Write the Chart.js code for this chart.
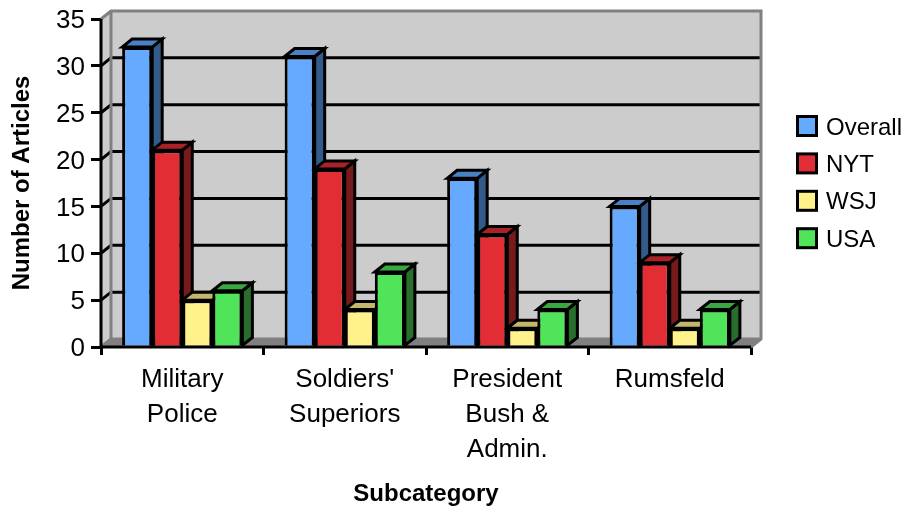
<!DOCTYPE html>
<html>
<head>
<meta charset="utf-8">
<style>
  html, body { margin: 0; padding: 0; background: #fff; }
  canvas { display: block; }
</style>
</head>
<body>
<canvas id="articles" width="906" height="510"></canvas>
<script src="https://cdn.jsdelivr.net/npm/chart.js@4"></script>
<script>
const categories = [['Military', 'Police'], ["Soldiers'", 'Superiors'], ['President', 'Bush &', 'Admin.'], ['Rumsfeld']];
const overall = [32, 31, 18, 15];
const nyt = [21, 19, 12, 9];
const wsj = [5, 4, 2, 2];
const usa = [6, 8, 4, 4];

const FONT = '"Liberation Sans", Arial, sans-serif';
const DEPTH_X = 10;  // how far the back wall sits from the front axes
const DEPTH_Y = 8;
const LINE = 3;

// colours per series: front, top and side faces
const shades = {
    Overall: ['#66aaff', '#4a80c4', '#335a88'],
    NYT: ['#e12d33', '#a92228', '#771a1c'],
    WSJ: ['#fff28a', '#c2b76a', '#8a8248'],
    USA: ['#4fe45a', '#39a842', '#286f2d']
};

function poly(ctx, pts, fill, stroke) {
    ctx.beginPath();
    pts.forEach((p, i) => i ? ctx.lineTo(p[0], p[1]) : ctx.moveTo(p[0], p[1]));
    ctx.closePath();
    ctx.fillStyle = fill;
    ctx.fill();
    if (stroke) {
        ctx.strokeStyle = stroke;
        ctx.lineWidth = LINE;
        ctx.lineJoin = 'miter';
        ctx.stroke();
    }
}

// back wall, side wall, floor and the gridlines that run across them
function drawWalls(chart) {
    const { ctx, chartArea: a, scales } = chart;
    const dx = DEPTH_X, dy = DEPTH_Y;
    poly(ctx, [[a.left + dx, a.top - dy], [a.right + dx, a.top - dy], [a.right + dx, a.bottom - dy], [a.left + dx, a.bottom - dy]], '#cccccc');
    poly(ctx, [[a.left, a.top], [a.left + dx, a.top - dy], [a.left + dx, a.bottom - dy], [a.left, a.bottom]], '#cccccc');
    poly(ctx, [[a.left, a.bottom], [a.left + dx, a.bottom - dy], [a.right + dx, a.bottom - dy], [a.right, a.bottom]], '#808080');

    ctx.lineWidth = LINE;
    ctx.strokeStyle = '#000';
    scales.y.ticks.forEach(t => {
        const y = scales.y.getPixelForValue(t.value);
        if (t.value > 0 && t.value < 35) {
            ctx.beginPath();
            ctx.moveTo(a.left, y);
            ctx.lineTo(a.left + dx, y - dy);
            ctx.lineTo(a.right + dx, y - dy);
            ctx.stroke();
        }
    });

    ctx.strokeStyle = '#808080';
    ctx.beginPath();
    ctx.moveTo(a.left, a.top);
    ctx.lineTo(a.left + dx, a.top - dy);
    ctx.lineTo(a.right + dx, a.top - dy);
    ctx.lineTo(a.right + dx, a.bottom - dy);
    ctx.lineTo(a.right, a.bottom);
    ctx.moveTo(a.left + dx, a.top - dy);
    ctx.lineTo(a.left + dx, a.bottom - dy);
    ctx.lineTo(a.right + dx, a.bottom - dy);
    ctx.moveTo(a.left + dx, a.bottom - dy);
    ctx.lineTo(a.left, a.bottom);
    ctx.stroke();

    ctx.strokeStyle = '#000';
    ctx.beginPath();
    ctx.moveTo(a.left, a.top);
    ctx.lineTo(a.left, a.bottom);
    ctx.lineTo(a.right, a.bottom);
    ctx.stroke();
}

// top and side faces go down first, left to right, so later bars cover earlier ones
function drawBarDepth(chart) {
    const { ctx } = chart;
    const dx = DEPTH_X, dy = DEPTH_Y;
    chart.data.labels.forEach((_, c) => {
        chart.data.datasets.forEach((ds, i) => {
            const colors = shades[ds.label];
            const bar = chart.getDatasetMeta(i).data[c];
            const l = bar.x - bar.width / 2, r = bar.x + bar.width / 2;
            poly(ctx, [[r, bar.y], [r + dx, bar.y - dy], [r + dx, bar.base - dy], [r, bar.base]], colors[2], '#000');
            poly(ctx, [[l, bar.y], [l + dx, bar.y - dy], [r + dx, bar.y - dy], [r, bar.y]], colors[1], '#000');
        });
    });
}

const depth3d = {
    id: 'depth3d',
    beforeDatasetsDraw(chart) {
        chart.ctx.save();
        drawWalls(chart);
        drawBarDepth(chart);
        chart.ctx.restore();
    }
};

const sideLegend = {
    id: 'sideLegend',
    afterDraw(chart) {
        const { ctx } = chart;
        ctx.save();
        ctx.font = '24px ' + FONT;
        ctx.textBaseline = 'middle';
        chart.data.datasets.forEach((ds, i) => {
            const y = 126 + i * 37.4;
            ctx.fillStyle = ds.backgroundColor;
            ctx.fillRect(797.5, y - 9.5, 19, 19);
            ctx.strokeStyle = '#000';
            ctx.lineWidth = LINE;
            ctx.strokeRect(797.5, y - 9.5, 19, 19);
            ctx.fillStyle = '#000';
            ctx.fillText(ds.label, 826, y + 2);
        });
        ctx.restore();
    }
};

function series(label, data) {
    return {
        label,
        data,
        backgroundColor: shades[label][0],
        borderColor: '#000',
        borderWidth: LINE,
        categoryPercentage: 0.74,
        barPercentage: 1
    };
}

new Chart(document.getElementById('articles'), {
    type: 'bar',
    data: {
        labels: categories,
        datasets: [
            series('Overall', overall),
            series('NYT', nyt),
            series('WSJ', wsj),
            series('USA', usa)
        ]
    },
    options: {
        responsive: false,
        animation: false,
        layout: { padding: { right: 155, top: 19 } },
        plugins: {
            legend: { display: false },
            tooltip: { enabled: false }
        },
        scales: {
            x: {
                afterFit(scale) { scale.height = 163; },
                border: { display: false },
                grid: { drawOnChartArea: false, color: '#000', lineWidth: LINE, tickLength: 8 },
                ticks: { color: '#000', font: { family: FONT, size: 26, lineHeight: 1.33 }, padding: 8, maxRotation: 0, autoSkip: false },
                title: { display: true, text: 'Subcategory', color: '#000', font: { family: FONT, size: 24, weight: 'bold' }, padding: { top: 0, bottom: 1 } }
            },
            y: {
                min: 0,
                max: 35,
                afterFit(scale) {
                    scale.width = 101;
                    scale.paddingTop = 0;
                    scale.paddingBottom = 0;
                },
                border: { display: false },
                grid: { drawOnChartArea: false, color: '#000', lineWidth: LINE, tickLength: 10 },
                ticks: { stepSize: 5, color: '#000', font: { family: FONT, size: 26 }, padding: 6, labelOffset: 2 },
                title: { display: true, text: 'Number of Articles', color: '#000', font: { family: FONT, size: 24, weight: 'bold' }, padding: { top: 8, bottom: 0 } }
            }
        }
    },
    plugins: [depth3d, sideLegend]
});
</script>
</body>
</html>
